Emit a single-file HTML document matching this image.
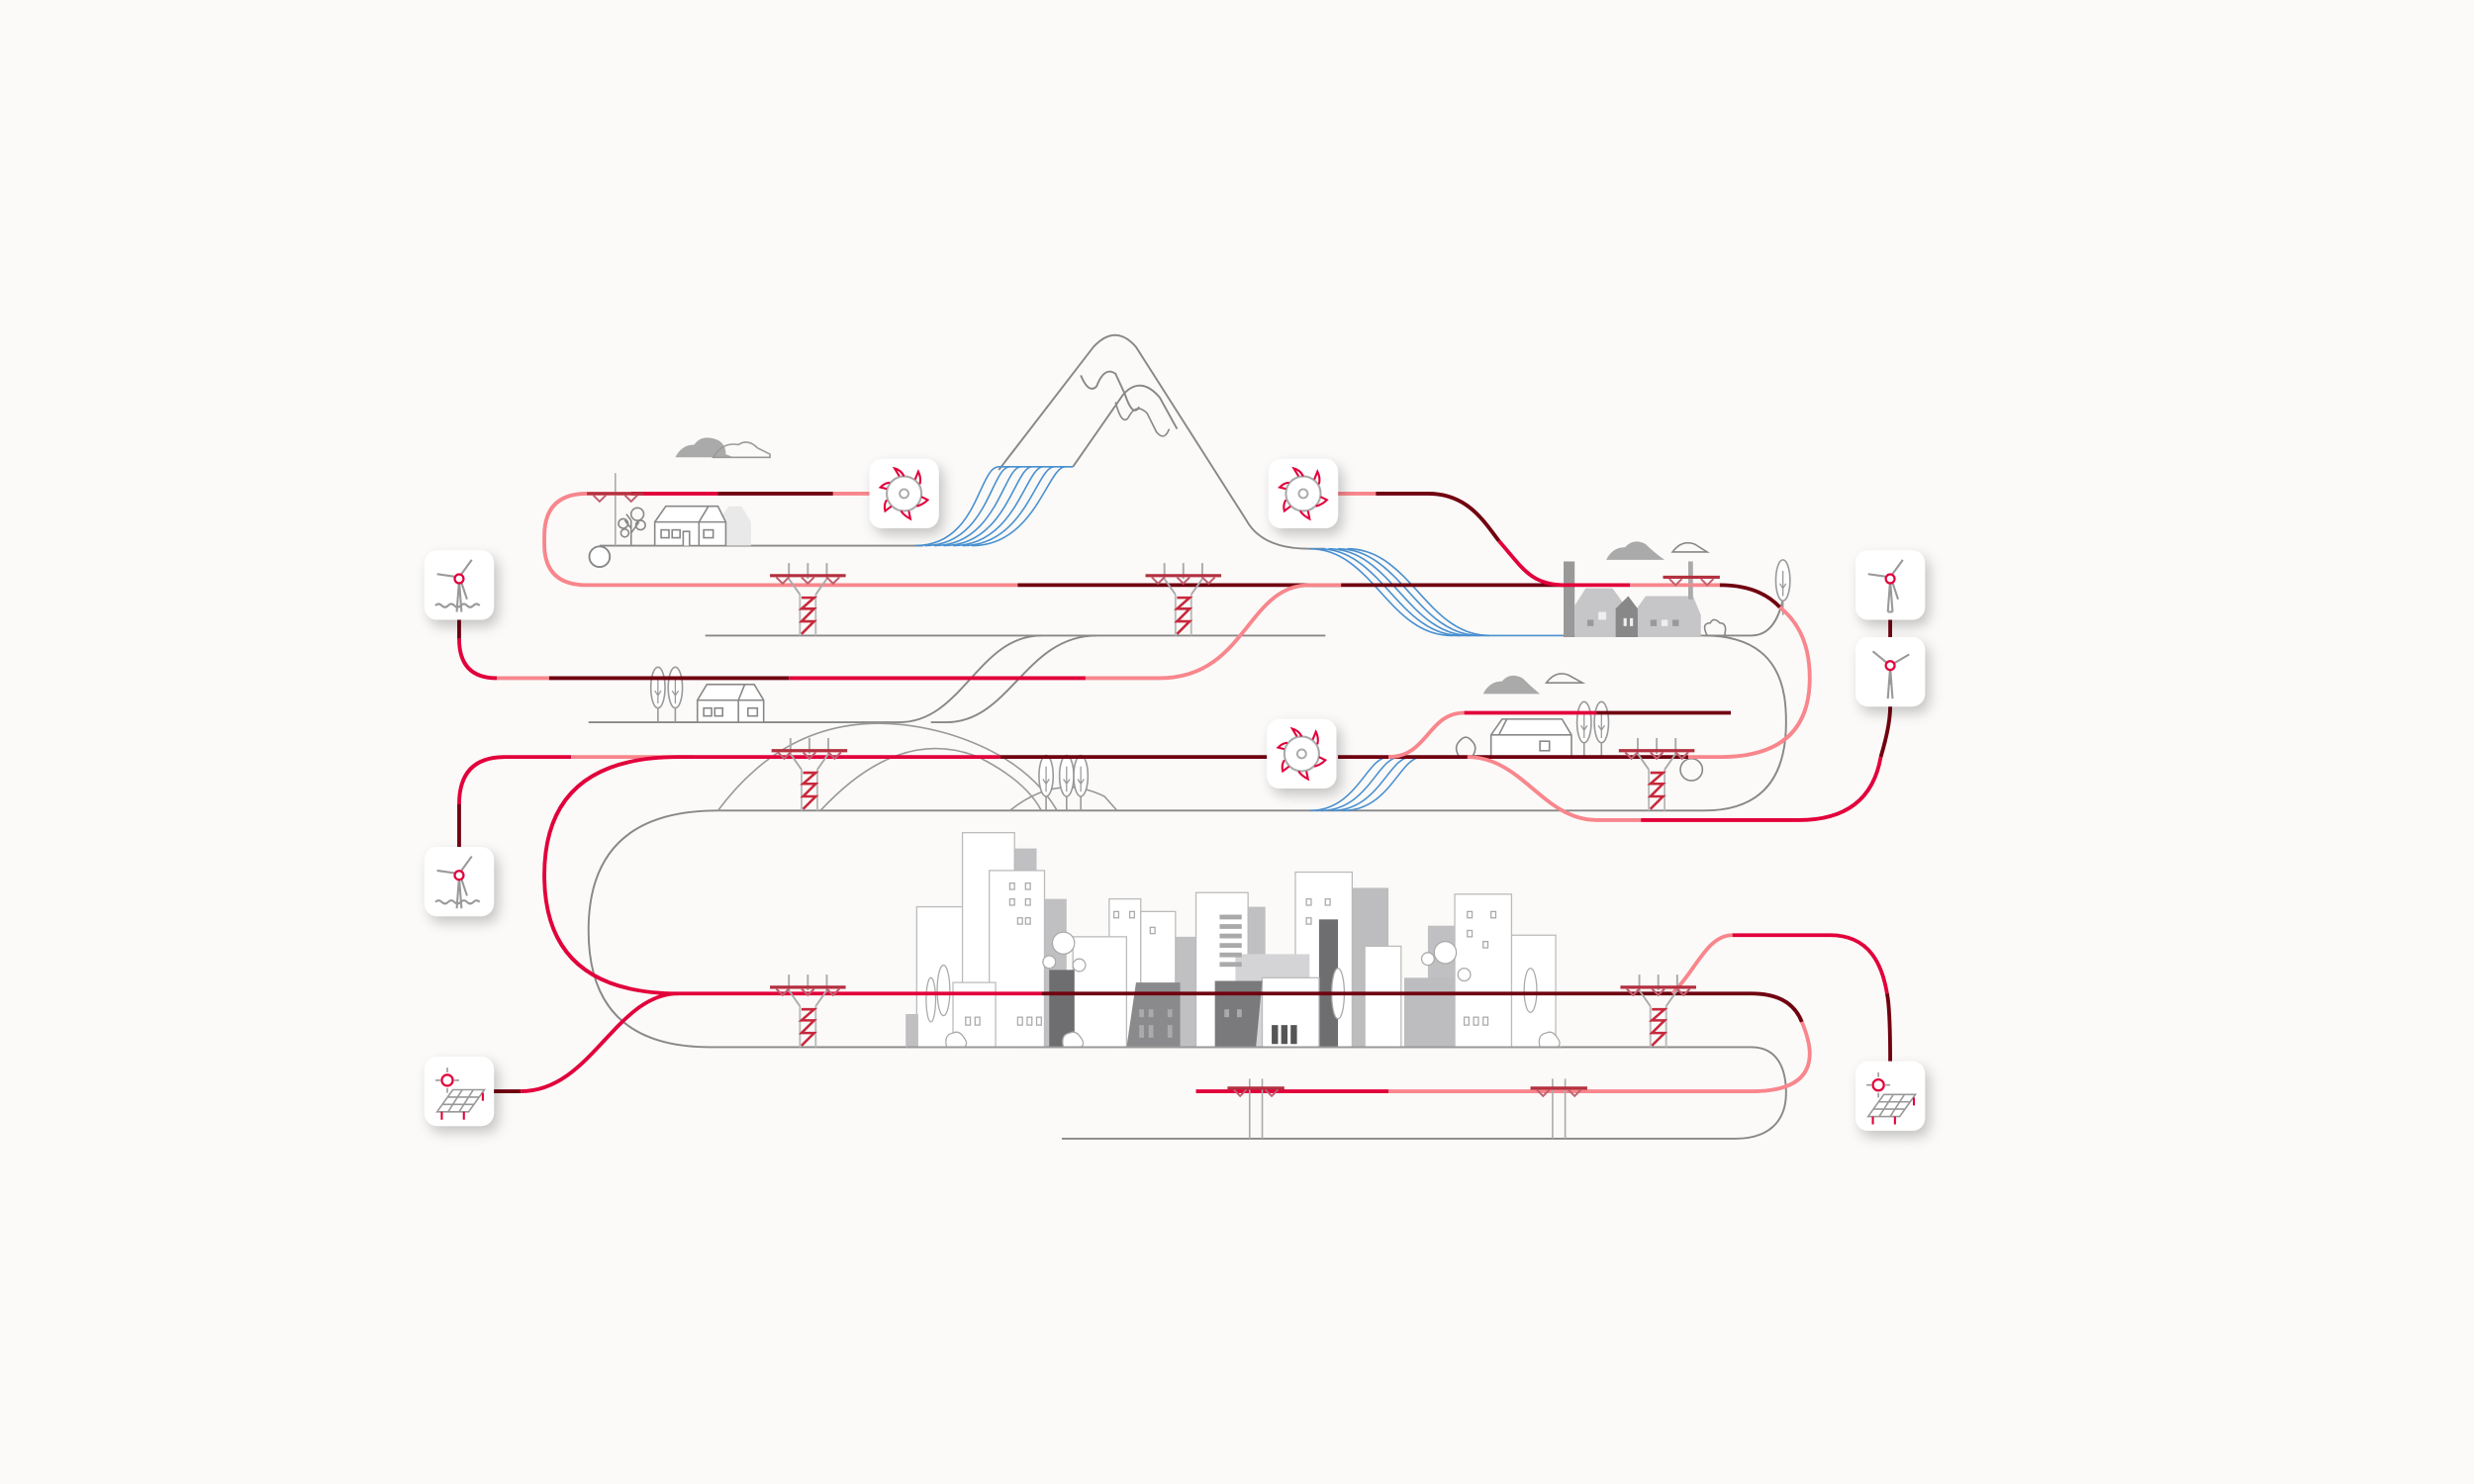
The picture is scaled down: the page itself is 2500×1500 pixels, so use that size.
<!DOCTYPE html>
<html><head><meta charset="utf-8"><style>
html,body{margin:0;padding:0;background:#fbfaf8;}
svg{display:block;}
</style></head><body>
<svg width="2500" height="1500" viewBox="0 0 1568 941" preserveAspectRatio="none" xmlns="http://www.w3.org/2000/svg">
<defs>
<filter id="sh" x="-40%" y="-40%" width="180%" height="180%"><feDropShadow dx="3" dy="4" stdDeviation="4" flood-color="#000" flood-opacity="0.22"/></filter>
<g id="card"><rect x="-22" y="-22" width="44" height="44" rx="8" fill="#fff" filter="url(#sh)"/></g>
<g id="hydro">
 <use href="#card"/>
 <circle r="11" fill="none" stroke="#aaa" stroke-width="1.3"/>
 <circle r="2.8" fill="none" stroke="#aaa" stroke-width="1.2"/>
 <g fill="none" stroke="#e2003b" stroke-width="1.3">
  <path d="M-3 -11 L-6 -16 Q-2 -15 0 -11"/><path d="M7 -9 L9 -14 Q11 -10 10 -6"/>
  <path d="M11 2 L15 4 Q12 7 8 8"/><path d="M3 11 L4 16 Q0 14 -2 11"/>
  <path d="M-8 8 L-12 11 Q-13 7 -11 4"/><path d="M-11 -3 L-15 -4 Q-12 -7 -9 -7"/>
 </g>
</g>
<g id="wind">
 <use href="#card"/>
 <g stroke="#999" stroke-width="1.3" fill="none">
  <path d="M0 -3 L-1.5 17 M0 -3 L1.5 17"/>
  <path d="M0 -5 L-14 -7 M0 -5 L8 -16 M1 -3 L5 9"/>
  <path d="M-15 13 q2 -2 4 0 t4 0 t4 0 t4 0 t4 0 t4 0 t4 0"/>
 </g>
 <circle cx="0" cy="-4" r="2.8" fill="#fff" stroke="#e2003b" stroke-width="1.4"/>
</g>
<g id="wind2">
 <use href="#card"/>
 <g stroke="#999" stroke-width="1.3" fill="none">
  <path d="M0 -3 L-1.5 17 M0 -3 L1.5 17 M-1.5 17 H1.5"/>
  <path d="M0 -5 L-14 -7 M0 -5 L8 -16 M1 -3 L5 9"/>
 </g>
 <circle cx="0" cy="-4" r="2.8" fill="#fff" stroke="#e2003b" stroke-width="1.4"/>
</g>
<g id="wind3">
 <use href="#card"/>
 <g stroke="#999" stroke-width="1.3" fill="none">
  <path d="M0 -3 L-1.5 17 M0 -3 L1.5 17"/>
  <path d="M0 -4 L-11 -13 M0 -4 L12 -11 M0 -4 L0 8"/>
 </g>
 <circle cx="0" cy="-4" r="2.8" fill="#fff" stroke="#e2003b" stroke-width="1.4"/>
</g>
<g id="solar">
 <use href="#card"/>
 <g stroke="#999" stroke-width="1" fill="none">
  <path d="M-12 -7 h-3 M-3 -7 h3 M-7.5 -12 v-3 M-7.5 -2 v3"/>
  <path d="M-14 13 L-4 -1 H16 L6 13 Z M-10.7 8.3 H9.3 M-7.3 3.7 H12.7 M-7 13 L2 -1 M0 13 L9 -1"/>
 </g>
 <circle cx="-7.5" cy="-7" r="3.5" fill="#fff" stroke="#e2003b" stroke-width="1.4"/>
 <path d="M-11 13 v5 M3 13 v5 M15 1 v5" stroke="#e2003b" stroke-width="1.3"/>
</g>
<g id="pylon">
 <path d="M-12 -8 V2 M12 -8 V2 M-12 2 L-5 12 M12 2 L5 12 M0 -8 V2" stroke="#aaa" stroke-width="1.2" fill="none"/>
 <path d="M-24 0 H24" stroke="#b3303f" stroke-width="2"/>
 <path d="M-20 1 L-16 5 L-12 1 M-4 1 L0 5 L4 1 M12 1 L16 5 L20 1" stroke="#c06070" stroke-width="1.3" fill="none"/>
 <path d="M-5 12 V38 M5 12 V38" stroke="#bbb" stroke-width="1.2"/>
 <path d="M-4 14 L4 14 L-4 21 L4 21 L-4 29 L4 29 L-4 37" stroke="#c8283c" stroke-width="1.6" fill="none"/>
</g>
<g id="pole">
 <path d="M-4 -6 V32 M4 -6 V32" stroke="#aaa" stroke-width="1"/>
 <path d="M-18 0 H18" stroke="#b3303f" stroke-width="2"/>
 <path d="M-14 1 L-10 5 L-6 1 M6 1 L10 5 L14 1" stroke="#c06070" stroke-width="1.2" fill="none"/>
</g>
<g id="tree">
 <path d="M0 0 V-18" stroke="#999" stroke-width="1"/>
 <ellipse cx="0" cy="-22" rx="4.5" ry="13" fill="#fff" stroke="#999" stroke-width="1"/>
 <path d="M0 -28 V-12 M-2 -20 L0 -17 L2 -20" stroke="#999" stroke-width="0.8" fill="none"/>
</g>
</defs>

<rect width="1568" height="941" fill="#fbfaf8"/>

<!-- gray lines / landscape -->
<g fill="none" stroke="#888" stroke-width="1.2">
 <path d="M380 346 H585"/>
 <circle cx="380" cy="353" r="6.5" fill="#fff"/>
 <!-- mountain -->
 <path d="M633 298 L693 220 Q707 205 720 220 L790 330 Q800 348 830 348 H840"/>
 <path d="M680 296 L712 250 Q723 238 735 252 L746 272"/>
 <path d="M685 238 Q690 250 695 245 Q700 232 707 237 L713 250 Q718 265 722 258"/>
 <path d="M707 255 Q711 270 715 265 Q720 255 727 262 L733 274 Q738 280 741 272" stroke-width="1"/>
 <path d="M447 403 H840"/>
 <path d="M990 403 H1085 Q1100 403 1110 403 Q1125 403 1130 380 V365"/>
 <path d="M1080 403 C1130 403 1132 440 1132 458 C1132 500 1110 514 1080 514"/>
 <path d="M373 458 H570 C610 458 620 403 660 403"/>
 <path d="M590 458 H600 C640 458 650 403 695 403"/>
 <path d="M1080 514 H455 Q373 514 373 590 Q373 664 450 664 H1110 C1128 664 1132 680 1132 693 C1132 712 1120 722 1100 722 H673"/>
</g>
<g fill="none" stroke="#999" stroke-width="1">
 <path d="M455 514 Q510 440 600 465 Q650 480 670 514"/>
 <path d="M520 514 Q570 460 620 480 Q650 495 660 514"/>
 <path d="M640 514 Q670 490 700 505 L708 514"/>
</g>
<!-- blue water -->
<g fill="none" stroke="#4a90d0" stroke-width="1">
 <path d="M580 346 C620 346 620 296 633 296 H680"/>
 <path d="M586 346 C626 346 628 296 640 296"/>
 <path d="M592 346 C632 346 636 296 647 296"/>
 <path d="M598 346 C638 346 643 296 654 296"/>
 <path d="M604 346 C644 346 650 296 661 296"/>
 <path d="M610 346 C650 346 657 296 668 296"/>
 <path d="M616 346 C656 346 664 296 675 296"/>
 <path d="M830 348 C870 348 880 403 920 403 H990"/>
 <path d="M836 348 C876 348 886 403 926 403"/>
 <path d="M842 348 C882 348 892 403 932 403"/>
 <path d="M848 348 C888 348 898 403 938 403"/>
 <path d="M854 348 C894 348 904 403 944 403"/>
 <path d="M830 514 C860 514 866 480 880 480"/>
 <path d="M837 514 C867 514 873 480 887 480"/>
 <path d="M844 514 C874 514 880 480 894 480"/>
 <path d="M851 514 C881 514 887 480 901 480"/>
</g>

<!-- clouds -->
<path d="M428 290 Q432 282 440 282 Q444 276 452 278 Q460 280 460 288 L465 290 Z" fill="#aaa"/>
<path d="M452 290 Q458 280 468 282 Q474 278 480 284 L488 288 L488 290 Z" fill="none" stroke="#999" stroke-width="1"/>
<path d="M1018 355 Q1022 347 1030 347 Q1035 341 1043 345 Q1048 350 1055 355 Z" fill="#aaa"/>
<path d="M1060 350 Q1066 342 1074 345 L1082 350 Z" fill="none" stroke="#888" stroke-width="1"/>
<path d="M940 440 Q944 432 952 432 Q957 426 965 430 Q970 435 976 440 Z" fill="#aaa"/>
<path d="M980 433 Q986 425 994 428 L1003 433 Z" fill="none" stroke="#888" stroke-width="1"/>

<!-- houses -->
<g stroke="#888" stroke-width="1" fill="#fff">
 <path d="M455 346 V330 L462 321 H470 L476 331 V346 Z" fill="#e9e9ea" stroke="none"/>
 <path d="M415 346 V331 L422 321 H455 L460 331 V346 Z"/>
 <path d="M415 331 H460 M449 321 L443 331 V346"/>
 <rect x="419" y="336" width="5" height="5"/><rect x="426" y="336" width="5" height="5"/><rect x="446" y="336" width="6" height="5"/>
 <path d="M433 346 V337 H437 V346"/>
 <path d="M442 458 V444 L448 434 H478 L484 444 V458 Z"/>
 <path d="M442 444 H484 M472 434 L468 444 V458"/>
 <rect x="446" y="449" width="5" height="5"/><rect x="453" y="449" width="5" height="5"/><rect x="474" y="449" width="6" height="5"/>
 <path d="M945 480 V466 L952 456 H990 L996 466 V480 Z"/>
 <path d="M945 466 H996 M955 456 L950 466"/>
 <rect x="976" y="470" width="6" height="6"/>
</g>
<g stroke="#888" stroke-width="1" fill="none">
 <path d="M400 346 V330 M400 335 L396 330 M400 338 L405 331 M400 330 L397 326"/>
 <circle cx="404" cy="326" r="4"/><circle cx="395" cy="332" r="3"/><circle cx="406" cy="333" r="3"/><circle cx="396" cy="338" r="2.5"/>
 <path d="M1082 403 q-4 -8 2 -8 q2 -4 6 0 q5 0 3 8" />
 <circle cx="1072" cy="488" r="7"/>
 <path d="M925 480 q-4 -6 0 -10 q4 -5 8 0 q4 4 0 10 z"/>
</g>
<use href="#tree" x="417" y="458"/>
<use href="#tree" x="428" y="458" transform="translate(0,0)"/>
<use href="#tree" x="1130" y="390"/>
<use href="#tree" x="1015" y="480"/>
<use href="#tree" x="1004" y="480"/>
<use href="#tree" x="663" y="514"/>
<use href="#tree" x="676" y="514"/>
<use href="#tree" x="685" y="514"/>

<!-- factory -->
<g>
 <rect x="991" y="356" width="7" height="48" fill="#999"/>
 <path d="M998 404 V384 L1005 373 H1022 L1030 384 V404 Z" fill="#c6c6c8"/>
 <path d="M1024 404 V386 L1032 378 L1038 386 V404 Z" fill="#888"/>
 <path d="M1038 404 V385 L1043 378 H1073 L1078 390 V404 Z" fill="#c6c6c8"/>
 <rect x="1070" y="356" width="3" height="24" fill="#aaa"/>
 <rect x="1006" y="393" width="4" height="4" fill="#999"/><rect x="1013" y="388" width="5" height="5" fill="#eee"/>
 <rect x="1046" y="393" width="4" height="4" fill="#999"/><rect x="1053" y="393" width="4" height="4" fill="#eee"/><rect x="1060" y="393" width="4" height="4" fill="#999"/>
 <rect x="1029" y="392" width="2" height="5" fill="#eee"/><rect x="1033" y="392" width="2" height="5" fill="#eee"/>
</g>

<!-- city -->
<g stroke="#bbb" stroke-width="0.8">
 <rect x="643" y="538" width="14" height="126" fill="#c0c0c2" stroke="none"/>
 <rect x="662" y="570" width="14" height="94" fill="#c0c0c2" stroke="none"/>
 <rect x="617" y="593" width="12" height="71" fill="#c0c0c2" stroke="none"/>
 <rect x="791" y="575" width="11" height="89" fill="#c0c0c2" stroke="none"/>
 <rect x="857" y="563" width="23" height="101" fill="#bdbdbf" stroke="none"/>
 <rect x="745" y="594" width="13" height="70" fill="#c0c0c2" stroke="none"/>
 <rect x="905" y="587" width="20" height="77" fill="#c0c0c2" stroke="none"/>
 <rect x="958" y="593" width="28" height="71" fill="#fff"/>
 <rect x="581" y="575" width="32" height="89" fill="#fff"/>
 <rect x="610" y="528" width="33" height="136" fill="#fff"/>
 <rect x="627" y="552" width="35" height="112" fill="#fff"/>
 <rect x="703" y="570" width="20" height="94" fill="#fff"/>
 <rect x="723" y="578" width="22" height="86" fill="#fff"/>
 <rect x="680" y="594" width="34" height="70" fill="#fff"/>
 <rect x="758" y="566" width="33" height="98" fill="#fff"/>
 <rect x="821" y="553" width="36" height="111" fill="#fff"/>
 <rect x="922" y="567" width="36" height="97" fill="#fff"/>
 <rect x="783" y="605" width="47" height="59" fill="#d4d4d6" stroke="none"/>
 <rect x="836" y="583" width="12" height="81" fill="#6e6e70" stroke="none"/>
 <rect x="865" y="600" width="23" height="64" fill="#fff"/>
 <rect x="890" y="620" width="32" height="44" fill="#bdbdbf" stroke="none"/>
 <rect x="800" y="620" width="36" height="44" fill="#fff"/>
 <path d="M714 664 L720 623 H748 V664 Z" fill="#8a8a8c" stroke="none"/>
 <path d="M770 664 V622 H800 L796 664 Z" fill="#7a7a7c" stroke="none"/>
 <rect x="665" y="615" width="16" height="49" fill="#6e6e70" stroke="none"/>
 <rect x="604" y="623" width="27" height="41" fill="#fff"/>
 <rect x="574" y="643" width="8" height="21" fill="#c0c0c2" stroke="none"/>
</g>
<g fill="#aaa">
 <rect x="773" y="580" width="14" height="3"/><rect x="773" y="586" width="14" height="3"/><rect x="773" y="592" width="14" height="3"/><rect x="773" y="598" width="14" height="3"/><rect x="773" y="604" width="14" height="3"/><rect x="773" y="610" width="14" height="3"/>
 <rect x="806" y="650" width="4" height="12" fill="#555"/><rect x="812" y="650" width="4" height="12" fill="#555"/><rect x="818" y="650" width="4" height="12" fill="#555"/>
 <rect x="722" y="640" width="3" height="5"/><rect x="728" y="640" width="3" height="5"/><rect x="740" y="640" width="3" height="5"/>
 <rect x="722" y="650" width="3" height="8"/><rect x="728" y="650" width="3" height="8"/><rect x="740" y="650" width="3" height="8"/>
 <rect x="776" y="640" width="3" height="5"/><rect x="784" y="640" width="3" height="5"/>
</g>
<g fill="none" stroke="#aaa" stroke-width="0.8">
 <rect x="640" y="560" width="3" height="4"/><rect x="650" y="560" width="3" height="4"/><rect x="640" y="570" width="3" height="4"/><rect x="650" y="570" width="3" height="4"/><rect x="645" y="582" width="3" height="4"/><rect x="650" y="582" width="3" height="4"/>
 <rect x="930" y="578" width="3" height="4"/><rect x="945" y="578" width="3" height="4"/><rect x="930" y="590" width="3" height="4"/><rect x="940" y="597" width="3" height="4"/><rect x="928" y="645" width="3" height="5"/><rect x="934" y="645" width="3" height="5"/><rect x="940" y="645" width="3" height="5"/>
 <rect x="828" y="570" width="3" height="4"/><rect x="840" y="570" width="3" height="4"/><rect x="828" y="582" width="3" height="4"/>
 <rect x="706" y="578" width="3" height="4"/><rect x="716" y="578" width="3" height="4"/><rect x="729" y="588" width="3" height="4"/>
 <rect x="612" y="645" width="3" height="5"/><rect x="618" y="645" width="3" height="5"/><rect x="645" y="645" width="3" height="5"/><rect x="651" y="645" width="3" height="5"/><rect x="657" y="645" width="3" height="5"/>
 <circle cx="674" cy="598" r="7" fill="#fff"/><circle cx="665" cy="610" r="4" fill="#fff"/><circle cx="684" cy="612" r="4" fill="#fff"/>
 <circle cx="916" cy="604" r="7" fill="#fff"/><circle cx="905" cy="608" r="4" fill="#fff"/><circle cx="928" cy="618" r="4" fill="#fff"/>
 <ellipse cx="590" cy="634" rx="3" ry="14" fill="#fff"/><ellipse cx="598" cy="628" rx="4" ry="16" fill="#fff"/><ellipse cx="970" cy="628" rx="4" ry="14" fill="#fff"/><ellipse cx="848" cy="630" rx="4" ry="16" fill="#fff"/>
 <path d="M976 664 q-2 -8 4 -9 q4 -2 7 3 q3 4 0 6 z" fill="#fff"/>
 <path d="M600 664 q-2 -8 4 -9 q4 -2 7 3 q3 4 0 6 z" fill="#fff"/>
 <path d="M674 664 q-2 -8 4 -9 q4 -2 7 3 q3 4 0 6 z" fill="#fff"/>
</g>
<path d="M575 664 H990" stroke="#999" stroke-width="1.2"/>

<!-- power lines -->
<g fill="none" stroke-width="2.4" stroke-linecap="butt">
 <!-- top loop -->
 <path d="M400 313 H372 Q345 313 345 340 V345 Q345 371 372 371 H645" stroke="#f8868c"/>
 <path d="M400 313 H455" stroke="#e2003b"/>
 <path d="M455 313 H528" stroke="#700010"/>
 <path d="M528 313 H552" stroke="#f8868c"/>
 <path d="M645 371 H992" stroke="#700010"/>
 <path d="M992 371 H1033" stroke="#e2003b"/>
 <path d="M1033 371 H1090" stroke="#f8868c"/>
 <path d="M1090 371 Q1115 371 1128 385" stroke="#700010"/>
 <path d="M1128 385 Q1147 400 1147 430 Q1147 480 1090 480 H1070" stroke="#f8868c"/>
 <!-- hydro2 -->
 <path d="M848 313 H872" stroke="#f8868c"/>
 <path d="M872 313 H905 C930 313 940 330 950 343" stroke="#700010"/>
 <path d="M950 343 C965 360 970 371 992 371" stroke="#e2003b"/>
 <!-- wind1 -->
 <path d="M291 393 V405" stroke="#700010"/>
 <path d="M291 405 Q291 430 315 430" stroke="#e2003b"/>
 <path d="M315 430 H348" stroke="#f8868c"/>
 <path d="M348 430 H500" stroke="#700010"/>
 <path d="M500 430 H688" stroke="#e2003b"/>
 <path d="M688 430 H735 C790 430 790 371 830 371 H850" stroke="#f8868c"/>
 <!-- y480 -->
 <path d="M291 537 V510" stroke="#700010"/>
 <path d="M291 510 Q291 480 320 480 H362" stroke="#e2003b"/>
 <path d="M362 480 H440" stroke="#f8868c"/>
 <path d="M430 630 Q345 630 345 555 Q345 480 430 480 H634" stroke="#e2003b"/>
 <path d="M634 480 H803" stroke="#700010"/>
 <path d="M848 480 H1070" stroke="#700010"/>
 <path d="M880 480 C905 480 905 452 928 452" stroke="#f8868c"/>
 <path d="M928 452 H1012" stroke="#e2003b"/>
 <path d="M1012 452 H1097" stroke="#700010"/>
 <path d="M930 480 C965 480 978 520 1012 520 H1040" stroke="#f8868c"/>
 <path d="M1040 520 H1140 Q1185 520 1192 480" stroke="#e2003b"/>
 <path d="M1192 480 Q1198 460 1198 448" stroke="#700010"/>
 <path d="M1198 404 V393" stroke="#700010"/>
 <!-- y630 -->
 <path d="M430 630 H660" stroke="#e2003b"/>
 <path d="M660 630 H1110 Q1135 630 1142 648" stroke="#700010"/>
 <path d="M1142 648 Q1147 660 1147 668 Q1147 692 1110 692 H880" stroke="#f8868c"/>
 <path d="M880 692 H758" stroke="#e2003b"/>
 <path d="M313 692 H330" stroke="#700010"/>
 <path d="M330 692 C375 692 390 630 430 630" stroke="#e2003b"/>
 <path d="M1060 630 C1075 615 1082 593 1098 593" stroke="#f8868c"/>
 <path d="M1098 593 H1160 C1185 593 1193 612 1196 630" stroke="#e2003b"/>
 <path d="M1196 630 Q1198 640 1198 673" stroke="#700010"/>
</g>

<!-- pylons -->
<use href="#pylon" x="512" y="365"/>
<use href="#pylon" x="750" y="365"/>
<use href="#pylon" x="513" y="476"/>
<use href="#pylon" x="1050" y="476"/>
<use href="#pylon" x="512" y="626"/>
<use href="#pylon" x="1051" y="626"/>
<use href="#pole" x="796" y="690"/>
<use href="#pole" x="988" y="690"/>
<g>
 <path d="M390 300 V346" stroke="#aaa" stroke-width="1"/>
 <path d="M372 313 H408" stroke="#b3303f" stroke-width="2"/>
 <path d="M376 314 L380 318 L384 314 M396 314 L400 318 L404 314" stroke="#c06070" stroke-width="1.2" fill="none"/>
</g>
<g>
 <path d="M1072 356 V378" stroke="#aaa" stroke-width="1"/>
 <path d="M1054 366 H1090" stroke="#b3303f" stroke-width="2"/>
 <path d="M1058 367 L1062 371 L1066 367 M1078 367 L1082 371 L1086 367" stroke="#c06070" stroke-width="1.2" fill="none"/>
</g>

<!-- cards -->
<use href="#wind" x="291" y="371"/>
<use href="#hydro" x="573" y="313"/>
<use href="#hydro" x="826" y="313"/>
<use href="#wind2" x="1198" y="371"/>
<use href="#wind3" x="1198" y="426"/>
<use href="#wind" x="291" y="559"/>
<use href="#hydro" x="825" y="478"/>
<use href="#solar" x="291" y="692"/>
<use href="#solar" x="1198" y="695"/>
</svg>
</body></html>
